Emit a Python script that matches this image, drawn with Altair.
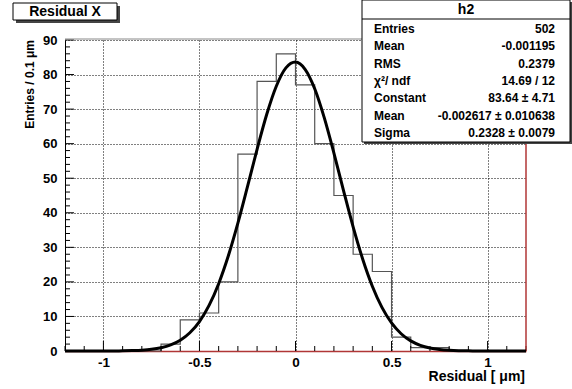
import altair as alt
import pandas as pd

# ---------------- data ----------------
bin_lo = [-1.2, -1.1, -1.0, -0.9, -0.8, -0.7, -0.6, -0.5, -0.4, -0.3, -0.2, -0.1,
          0.0, 0.1, 0.2, 0.3, 0.4, 0.5, 0.6, 0.7, 0.8, 0.9, 1.0, 1.1]
counts = [0, 0, 0, 0, 0, 2, 9, 11, 20, 57, 78, 86,
          77, 60, 45, 28, 23, 4, 1, 1, 0, 0, 0, 0]
bin_width = 0.1

fit_x = [-1.2, -1.15, -1.1, -1.05, -1.0, -0.95, -0.9, -0.85, -0.8, -0.75, -0.7, -0.65,
         -0.6, -0.55, -0.5, -0.45, -0.4, -0.35, -0.3, -0.25, -0.2, -0.15, -0.1, -0.05,
         0.0, 0.05, 0.1, 0.15, 0.2, 0.25, 0.3, 0.35, 0.4, 0.45, 0.5, 0.55, 0.6, 0.65,
         0.7, 0.75, 0.8, 0.85, 0.9, 0.95, 1.0, 1.05, 1.1, 1.15, 1.2]
fit_y = [0, 0, 0, 0, 0.01, 0.02, 0.05, 0.12, 0.24, 0.48, 0.94, 1.75,
         3.11, 5.27, 8.53, 13.19, 19.48, 27.47, 36.99, 47.56, 58.38, 68.45, 76.63, 81.93,
         83.63, 81.53, 75.90, 67.47, 57.28, 46.43, 35.94, 26.57, 18.75, 12.64, 8.14, 5.00, 2.93, 1.65,
         0.88, 0.45, 0.22, 0.10, 0.05, 0.02, 0.01, 0, 0, 0, 0]

x_major = [-1.0, -0.5, 0.0, 0.5, 1.0]
x_minor = [-1.2, -1.1, -0.9, -0.8, -0.7, -0.6, -0.4, -0.3, -0.2, -0.1,
           0.1, 0.2, 0.3, 0.4, 0.6, 0.7, 0.8, 0.9, 1.1, 1.2]
y_major = [0, 10, 20, 30, 40, 50, 60, 70, 80, 90]
y_minor = [2, 4, 6, 8, 12, 14, 16, 18, 22, 24, 26, 28, 32, 34, 36, 38, 42, 44, 46, 48,
           52, 54, 56, 58, 62, 64, 66, 68, 72, 74, 76, 78, 82, 84, 86, 88]

stat_labels = ["Entries", "Mean", "RMS", "χ²/ ndf", "Constant", "Mean", "Sigma"]
stat_values = ["502", "-0.001195", "0.2379", "14.69 / 12", "83.64 ± 4.71",
               "-0.002617 ± 0.010638", "0.2328 ± 0.0079"]
stats_title = "h2"
plot_title = "Residual X"
x_title = "Residual [ μm]"
y_title = "Entries / 0.1 μm"

# ---------------- layout ----------------
W, H = 461, 311
FONT = "Liberation Sans"
RED = "#b03636"

hist_df = pd.DataFrame({"x": bin_lo + [bin_lo[-1] + bin_width],
                        "y": counts + [counts[-1]]})
fit_df = pd.DataFrame({"x": fit_x, "y": fit_y})

xscale = alt.Scale(domain=[-1.2, 1.2], nice=False, zero=False)
yscale = alt.Scale(domain=[0, 90], nice=False, zero=False)

base_x_axis = alt.Axis(values=x_major, grid=True, gridDash=[1, 2], gridColor="#000",
                       gridOpacity=1, ticks=False, domainColor=RED, domainWidth=1.5,
                       labelExpr="'' + datum.value", labelFont=FONT, labelFontWeight="bold",
                       labelFontSize=13.5, labelColor="#000", labelPadding=4, title=None,
                       labelOverlap=False)
base_y_axis = alt.Axis(values=y_major, grid=True, gridDash=[1, 2], gridColor="#000",
                       gridOpacity=1, ticks=False, domainColor="#000",
                       labelFont=FONT, labelFontWeight="bold", labelFontSize=13,
                       labelColor="#000", labelPadding=8, title=None,
                       labelOverlap=False)

hist = alt.Chart(hist_df).mark_line(interpolate="step-after", color="#555",
                                    strokeWidth=1.2).encode(
    x=alt.X("x:Q", scale=xscale, axis=base_x_axis),
    y=alt.Y("y:Q", scale=yscale, axis=base_y_axis),
)

fit = alt.Chart(fit_df).mark_line(interpolate="monotone", color="#000",
                                  strokeWidth=3).encode(
    x=alt.X("x:Q", scale=xscale, axis=base_x_axis),
    y=alt.Y("y:Q", scale=yscale, axis=base_y_axis),
)

xmaj = alt.Chart(pd.DataFrame({"x": x_major})).mark_rule(color="#000").encode(
    x=alt.X("x:Q", scale=xscale, axis=base_x_axis), y=alt.value(H), y2=alt.value(H - 10))
xmin = alt.Chart(pd.DataFrame({"x": x_minor})).mark_rule(color="#000").encode(
    x=alt.X("x:Q", scale=xscale, axis=base_x_axis), y=alt.value(H), y2=alt.value(H - 5))
ymaj = alt.Chart(pd.DataFrame({"y": y_major})).mark_rule(color="#000").encode(
    y=alt.Y("y:Q", scale=yscale, axis=base_y_axis), x=alt.value(0), x2=alt.value(9))
ymin = alt.Chart(pd.DataFrame({"y": y_minor})).mark_rule(color="#000").encode(
    y=alt.Y("y:Q", scale=yscale, axis=base_y_axis), x=alt.value(0), x2=alt.value(5))

right_frame = alt.Chart(pd.DataFrame({"a": [0]})).mark_rule(
    color=RED, strokeWidth=1.5).encode(x=alt.value(W), y=alt.value(0), y2=alt.value(H))
top_frame = alt.Chart(pd.DataFrame({"a": [0]})).mark_rule(
    color="#888", strokeWidth=1).encode(x=alt.value(0), x2=alt.value(W), y=alt.value(-1))

main = alt.layer(hist, xmin, xmaj, ymin, ymaj, right_frame, top_frame, fit)

one = pd.DataFrame({"a": [0]})

# title box
tbox_shadow = alt.Chart(one).mark_rect(color="#444").encode(
    x=alt.value(-49), x2=alt.value(55), y=alt.value(-34), y2=alt.value(-17))
tbox = alt.Chart(one).mark_rect(fill="#fff", stroke="#000", strokeWidth=1).encode(
    x=alt.value(-52), x2=alt.value(52), y=alt.value(-37), y2=alt.value(-20))
ttext = alt.Chart(pd.DataFrame({"t": [plot_title]})).mark_text(
    font=FONT, fontWeight="bold", fontSize=14, color="#000", align="center",
    baseline="middle").encode(text="t:N", x=alt.value(0), y=alt.value(-28))

# stats box
sbox_shadow = alt.Chart(one).mark_rect(color="#444").encode(
    x=alt.value(299), x2=alt.value(507), y=alt.value(-38), y2=alt.value(104))
sbox = alt.Chart(one).mark_rect(fill="#fff", stroke="#000", strokeWidth=1).encode(
    x=alt.value(297), x2=alt.value(505), y=alt.value(-40), y2=alt.value(102))
sline = alt.Chart(one).mark_rule(color="#000").encode(
    x=alt.value(297), x2=alt.value(505), y=alt.value(-21))
shead = alt.Chart(pd.DataFrame({"t": [stats_title]})).mark_text(
    font=FONT, fontWeight="bold", fontSize=14, color="#000", align="center",
    baseline="middle").encode(text="t:N", x=alt.value(401), y=alt.value(-30))

stats_df = pd.DataFrame({"row": list(range(len(stat_labels))),
                         "label": stat_labels, "value": stat_values})
rowscale = alt.Scale(domain=[0, 6], range=[-11, 93])
slabels = alt.Chart(stats_df).mark_text(
    font=FONT, fontWeight="bold", fontSize=12, color="#000", align="left",
    baseline="middle").encode(text="label:N", x=alt.value(309),
                              y=alt.Y("row:Q", scale=rowscale, axis=None))
svalues = alt.Chart(stats_df).mark_text(
    font=FONT, fontWeight="bold", fontSize=12, color="#000", align="right",
    baseline="middle").encode(text="value:N", x=alt.value(490),
                              y=alt.Y("row:Q", scale=rowscale, axis=None))
stats_text = alt.layer(slabels, svalues)

# axis titles
xt = alt.Chart(pd.DataFrame({"t": [x_title]})).mark_text(
    font=FONT, fontWeight="bold", fontSize=14, color="#000", align="right",
    baseline="alphabetic").encode(text="t:N", x=alt.value(460), y=alt.value(341))
yt = alt.Chart(pd.DataFrame({"t": [y_title]})).mark_text(
    font=FONT, fontWeight="bold", fontSize=12, color="#000", align="right",
    baseline="middle", angle=270).encode(text="t:N", x=alt.value(-35), y=alt.value(0))

deco = alt.layer(tbox_shadow, tbox, ttext, sbox_shadow, sbox, sline, shead, xt, yt)

chart = alt.layer(main, deco, stats_text).resolve_scale(y="independent").properties(
    width=W, height=H,
    autosize=alt.AutoSizeParams(type="none"),
    padding={"left": 65, "top": 40, "right": 46, "bottom": 38},
    background="#fff",
).configure_view(stroke=None)

chart.save("out.html", embed_options={"renderer": "svg", "actions": False})
